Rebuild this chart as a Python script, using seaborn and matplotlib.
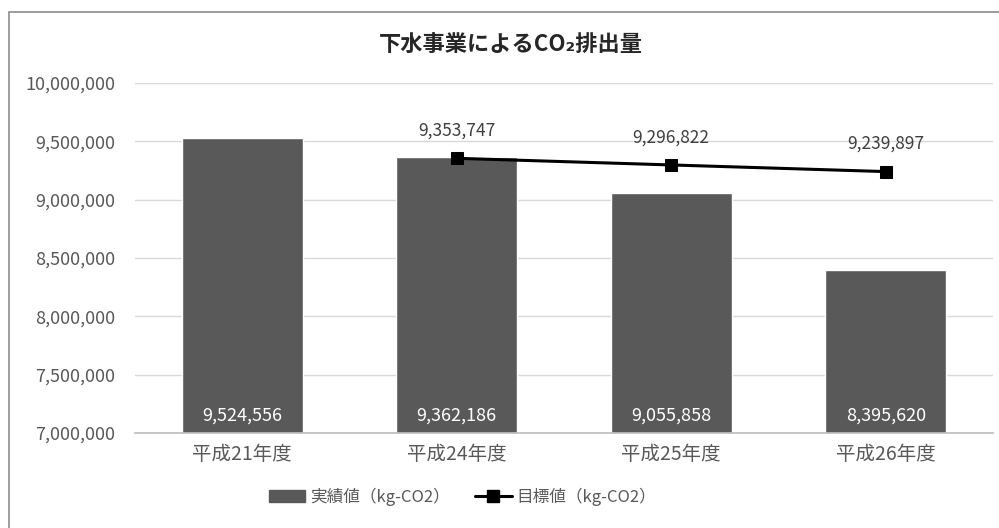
# CO2 emissions from the sewage business: actual values (bars) vs targets (line)
import pandas as pd
import matplotlib.pyplot as plt
import seaborn as sns
from matplotlib.patches import Patch, Rectangle
from matplotlib.lines import Line2D
from matplotlib.ticker import FuncFormatter

categories = ["平成21年度", "平成24年度", "平成25年度", "平成26年度"]
actual_values = [9524556, 9362186, 9055858, 8395620]
target_categories = ["平成24年度", "平成25年度", "平成26年度"]
target_values = [9353747, 9296822, 9239897]
y_ticks = [7000000, 7500000, 8000000, 8500000, 9000000, 9500000, 10000000]

actual_df = pd.DataFrame({"年度": categories, "実績値": actual_values})
target_df = pd.DataFrame({"pos": [categories.index(c) for c in target_categories],
                          "目標値": target_values})

sns.set_theme(style="white")
plt.rcParams["font.family"] = ["Noto Sans CJK JP", "DejaVu Sans"]

bar_color = "#595959"
text_color = "#595959"

fig = plt.figure(figsize=(9.99, 5.28), dpi=100)
ax = fig.add_axes([0.135, 0.18, 0.859, 0.663])

sns.barplot(data=actual_df, x="年度", y="実績値", order=categories,
            color=bar_color, saturation=1, width=0.565, ax=ax, zorder=2)
sns.lineplot(data=target_df, x="pos", y="目標値", color="black", linewidth=2.2,
             marker="s", markersize=9, markeredgecolor="black", ax=ax, zorder=4)

# value labels
for i, v in enumerate(actual_values):
    ax.text(i, 7000000 + 150000, f"{v:,}", ha="center", va="center",
            color="white", fontsize=13, zorder=5)
for c, v in zip(target_categories, target_values):
    ax.annotate(f"{v:,}", (categories.index(c), v), xytext=(0, 20),
                textcoords="offset points", ha="center", va="center",
                color="#404040", fontsize=12.5)

ax.set_ylim(7000000, 10000000)
ax.set_yticks(y_ticks)
ax.yaxis.set_major_formatter(FuncFormatter(lambda v, p: f"{int(v):,}"))
ax.set_xlim(-0.5, len(categories) - 0.5)
ax.yaxis.grid(True, color="#d9d9d9", linewidth=1, zorder=0)
ax.set_axisbelow(True)
for side in ["top", "right", "left"]:
    ax.spines[side].set_visible(False)
ax.spines["bottom"].set_color("#bfbfbf")
ax.tick_params(axis="y", labelsize=13, colors=text_color, length=0, pad=14)
ax.tick_params(axis="x", labelsize=14, colors=text_color, length=0, pad=8)
ax.set_xlabel("")
ax.set_ylabel("")

fig.text(0.511, 0.915, "下水事業によるCO₂排出量", ha="center", va="center",
         fontsize=16, fontweight="bold", color="#262626")

handles = [Patch(facecolor=bar_color, edgecolor=bar_color),
           Line2D([0], [0], color="black", linewidth=2.2, marker="s", markersize=8)]
fig.legend(handles, ["実績値（kg-CO2）", "目標値（kg-CO2）"], loc="center",
           bbox_to_anchor=(0.463, 0.059), ncol=2, frameon=False, fontsize=12,
           handlelength=2.2, columnspacing=1.5, handletextpad=0.3,
           labelcolor=text_color)

# outer chart frame
fig.patches.append(Rectangle((0.009, -0.05), 1.2, 1.027, transform=fig.transFigure,
                             fill=False, edgecolor="#8c8c8c", linewidth=1.2))

fig.savefig("out.png", dpi=100)
